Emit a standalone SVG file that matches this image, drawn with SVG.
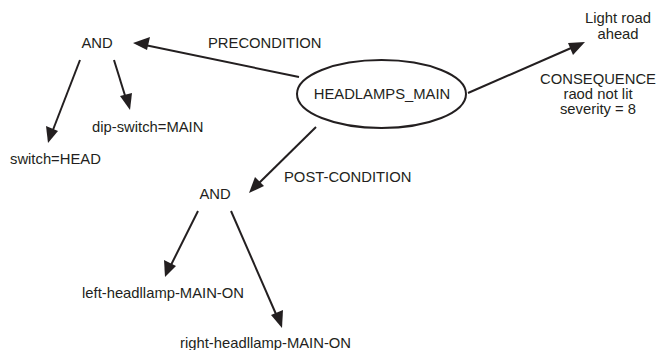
<svg xmlns="http://www.w3.org/2000/svg" width="657" height="350" viewBox="0 0 657 350">
<defs>
<style>
text{font-family:"Liberation Sans",Arial,sans-serif;font-size:14.8px;fill:#231f20}
.c{text-anchor:middle}
.e{stroke:#231f20;stroke-width:2;fill:none}
.h{fill:#231f20}
</style>
</defs>
<rect width="657" height="350" fill="#fff"/>
<g id="connectors">
<line class="e" x1="299" y1="77" x2="140" y2="44"/>
<path class="h" d="M133,43 L150,37 L147,50 z"/>
<line class="e" x1="80" y1="60" x2="51" y2="135"/>
<path class="h" d="M48,143 L46,126 L58,131 z"/>
<line class="e" x1="114" y1="60" x2="127" y2="102"/>
<path class="h" d="M130,110 L120,96 L132,93 z"/>
<line class="e" x1="316" y1="127" x2="254" y2="188"/>
<path class="h" d="M249,193 L255,177 L264,186 z"/>
<line class="e" x1="198" y1="211" x2="168" y2="271"/>
<path class="h" d="M165,277 L164,260 L176,266 z"/>
<line class="e" x1="231" y1="211" x2="279" y2="321"/>
<path class="h" d="M282,328 L271,315 L283,310 z"/>
<line class="e" x1="468" y1="93" x2="578" y2="45"/>
<path class="h" d="M585,42 L573,55 L568,43 z"/>
</g>
<g id="headlamps_main">
<ellipse cx="381.5" cy="94" rx="84.5" ry="34" fill="none" stroke="#231f20" stroke-width="2"/>
<text class="c" x="382" y="99">HEADLAMPS_MAIN</text>
</g>
<g id="and_pre"><text class="c" x="97" y="48">AND</text></g>
<g id="precondition"><text x="208" y="48">PRECONDITION</text></g>
<g id="switch_head"><text x="10" y="164">switch=HEAD</text></g>
<g id="dip_switch"><text x="92" y="132">dip-switch=MAIN</text></g>
<g id="postcondition"><text x="284" y="182">POST-CONDITION</text></g>
<g id="and_post"><text class="c" x="215" y="199">AND</text></g>
<g id="left_headlamp"><text x="82" y="298">left-headllamp-MAIN-ON</text></g>
<g id="right_headlamp"><text x="180" y="348">right-headllamp-MAIN-ON</text></g>
<g id="consequence">
<text class="c" x="618" y="23">Light road</text>
<text class="c" x="618" y="39">ahead</text>
<text class="c" x="598" y="84">CONSEQUENCE</text>
<text class="c" x="598" y="99">raod not lit</text>
<text class="c" x="598" y="114">severity = 8</text>
</g>
</svg>
